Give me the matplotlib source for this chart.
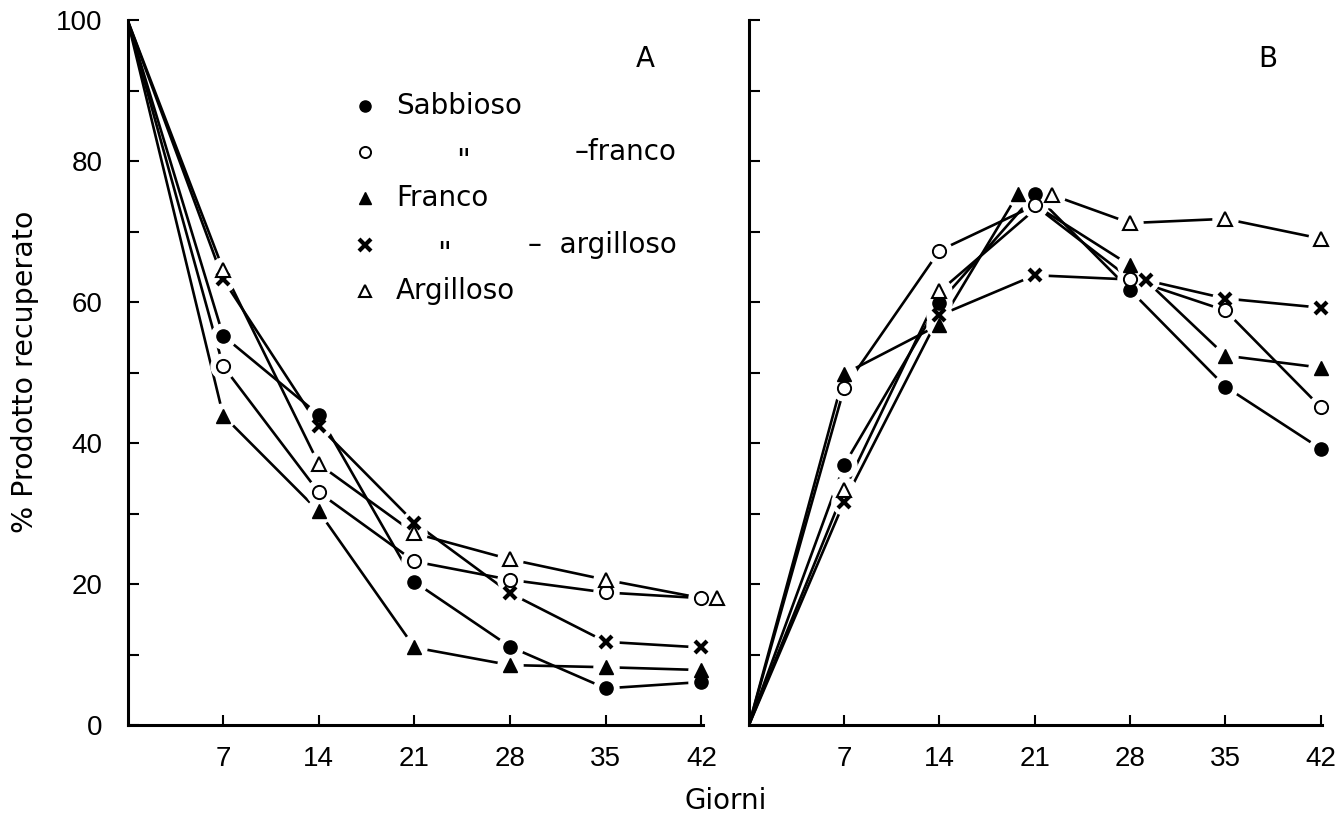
import matplotlib
matplotlib.use("Agg")
import matplotlib.pyplot as plt
import numpy as np

plt.rcParams['font.family'] = ['Liberation Sans', 'DejaVu Sans']

giorni = [0, 7, 14, 21, 28, 35, 42]
serie = ["Sabbioso", "Sabbioso-franco", "Franco", "Franco-argilloso", "Argilloso"]

# pannello A (% prodotto recuperato)
sabbioso_A = [100, 55.2, 44.0, 20.3, 11.1, 5.2, 6.1]
sab_franco_A = [100, 50.9, 33.0, 23.2, 20.6, 18.8, 18.0]
franco_A = [100, 43.9, 30.3, 11.0, 8.5, 8.2, 7.8]
franco_arg_A = [100, 63.2, 42.4, 28.7, 18.7, 11.8, 11.0]
argilloso_A = [100, 64.6, 37.0, 27.2, 23.5, 20.6, 18.0]

# pannello B
sabbioso_B = [0, 36.9, 59.9, 75.3, 61.7, 48.0, 39.2]
sab_franco_B = [0, 47.8, 67.3, 73.7, 63.3, 58.8, 45.1]
franco_B = [0, 49.8, 56.8, 75.3, 65.2, 52.4, 50.7]
franco_arg_B = [0, 31.7, 58.1, 63.8, 63.1, 60.5, 59.2]
argilloso_B = [0, 33.3, 61.5, 75.2, 71.2, 71.8, 69.0]

dati_A = [sabbioso_A, sab_franco_A, franco_A, franco_arg_A, argilloso_A]
dati_B = [sabbioso_B, sab_franco_B, franco_B, franco_arg_B, argilloso_B]

# stile dei simboli
stili = {
    "Sabbioso": dict(marker='o', ms=9.5, mfc='black', mec='black', mew=1),
    "Sabbioso-franco": dict(marker='o', ms=9.5, mfc='white', mec='black', mew=1.4),
    "Franco": dict(marker='^', ms=10.5, mfc='black', mec='black', mew=1),
    "Franco-argilloso": dict(marker='x', ms=8, mfc='black', mec='black', mew=3),
    "Argilloso": dict(marker='^', ms=10.5, mfc='white', mec='black', mew=1.5),
}

# simboli spostati di lato per non sovrapporsi (giorni, in unita' dell'asse)
spost_A = {("Argilloso", 42): 1.15}
spost_B = {("Franco", 21): -1.25, ("Argilloso", 21): 1.25, ("Franco-argilloso", 28): 1.15}

fig = plt.figure(figsize=(13.41, 8.21), dpi=100)
axA = fig.add_axes([0.0951, 0.1169, 0.4295, 0.8587])
axB = fig.add_axes([0.5585, 0.1169, 0.4273, 0.8587])


def pannello(ax, dati, spost, linea_segue):
    xs_tutti = []
    for nome, y in zip(serie, dati):
        xm = np.array(giorni, dtype=float)
        for i, g in enumerate(giorni):
            xm[i] = g + spost.get((nome, g), 0)
        xl = xm if linea_segue else np.array(giorni, dtype=float)
        ax.plot(xl, y, color='black', lw=1.9, zorder=2, solid_capstyle='butt')
        xs_tutti.append((nome, xm, y))
    # alone bianco attorno ai simboli (interruzione delle linee)
    for nome, xm, y in xs_tutti:
        ax.plot(xm[1:], y[1:], ls='none', marker='o', ms=19, mfc='white', mec='none',
                zorder=3, clip_on=False)
    for nome, xm, y in xs_tutti:
        ax.plot(xm[1:], y[1:], ls='none', zorder=4, clip_on=False, **stili[nome])

    ax.set_ylim(0, 100)
    ax.set_xticks(giorni[1:])
    ax.set_yticks(np.arange(0, 101, 10))
    for s in ['top', 'right']:
        ax.spines[s].set_visible(False)
    for s in ['left', 'bottom']:
        ax.spines[s].set_linewidth(2.2)
    ax.tick_params(axis='x', direction='in', length=7, width=1.5, pad=15, labelsize=20)
    ax.tick_params(axis='y', direction='in', length=8, width=1.5, pad=18, labelsize=20)


pannello(axA, dati_A, spost_A, False)
pannello(axB, dati_B, spost_B, True)
axA.set_xlim(0, 42.15)
axB.set_xlim(0, 42.1)

axA.set_yticklabels(["0", "", "20", "", "40", "", "60", "", "80", "", "100"])
axB.set_yticklabels([])

testo = ['DejaVu Sans']
axA.text(0.899, 0.945, "A", transform=axA.transAxes, fontsize=20, ha='center', va='center',
         family=testo)
axB.text(0.905, 0.945, "B", transform=axB.transAxes, fontsize=20, ha='center', va='center',
         family=testo)

# legenda
righe_y = [0.878, 0.813, 0.748, 0.681, 0.615]
etichette = [("Sabbioso", None), (None, "–franco"), ("Franco", None),
             (None, "–  argilloso"), ("Argilloso", None)]
ditto_x = [None, 0.582, None, 0.549, None]
for nome, yy, (sx, dx), dt in zip(serie, righe_y, etichette, ditto_x):
    st = dict(stili[nome])
    if nome != "Franco-argilloso":
        st['ms'] = st['ms'] - 1.5
    axA.plot([0.412], [yy], ls='none', transform=axA.transAxes, zorder=5, **st)
    if sx is not None:
        axA.text(0.466, yy, sx, transform=axA.transAxes, fontsize=20, va='center', ha='left',
                 family=testo)
    else:
        axA.text(dt, yy - 0.014, '"', transform=axA.transAxes, fontsize=22,
                 va='center', ha='center', family=testo)
        axA.text(0.954, yy, dx, transform=axA.transAxes, fontsize=20, va='center', ha='right',
                 family=testo)

fig.text(0.019, 0.547, "% Prodotto recuperato", rotation=90, fontsize=20.5,
         ha='center', va='center', family=testo)
fig.text(0.541, 0.024, "Giorni", fontsize=20, ha='center', va='center', family=testo)

fig.savefig("out.png", dpi=100)
